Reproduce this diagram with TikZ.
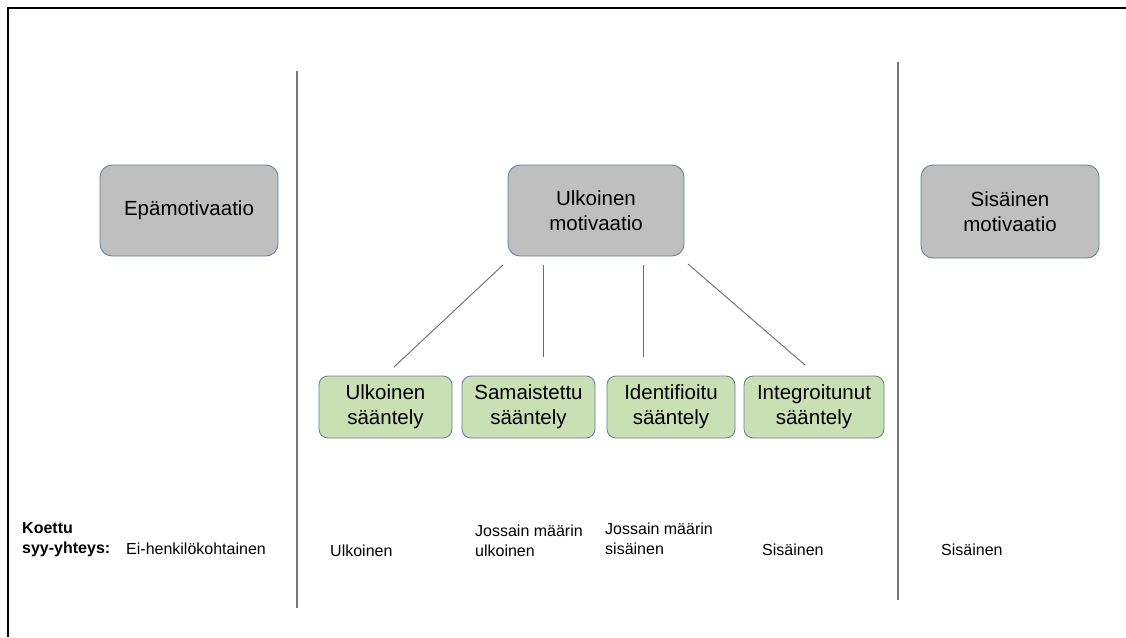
\documentclass[tikz,border=0pt]{standalone}
\usepackage{fontspec}
\setmainfont{Liberation Sans}
\usepackage{tikz}
\usetikzlibrary{positioning}
\definecolor{BoxGrey}{RGB}{191, 191, 191}
\definecolor{BoxGreen}{RGB}{200, 224, 180}
\definecolor{BoxEdge}{RGB}{100, 122, 150}
\definecolor{RuleGrey}{RGB}{120, 120, 120}

\begin{document}
\begin{tikzpicture}[
    x=1pt,
    y=-1pt,
    motivbox/.style={
        rectangle,
        rounded corners=12pt,
        draw=BoxEdge,
        line width=0.8pt,
        fill=BoxGrey,
        minimum width=178pt,
        minimum height=91pt,
        align=center,
        font=\fontsize{20.5}{25}\selectfont
    },
    regbox/.style={
        rectangle,
        rounded corners=9pt,
        draw=BoxEdge,
        line width=0.8pt,
        fill=BoxGreen,
        minimum height=62pt,
        inner sep=2pt,
        align=center,
        font=\fontsize{20.5}{25}\selectfont
    },
    causetext/.style={
        inner sep=0pt,
        align=left,
        font=\fontsize{16}{20}\selectfont
    },
    divider/.style={
        draw=RuleGrey,
        line width=1.2pt
    },
    branch/.style={
        draw=RuleGrey!90!black,
        line width=0.9pt
    }
]
\useasboundingbox (0,0) rectangle (1126,637);
% -------------------------------------------------------------
% FRAME
% -------------------------------------------------------------
\draw[line width=2.4pt] (8,637) -- (8,8) -- (1126,8);
% -------------------------------------------------------------
% DIVIDERS
% -------------------------------------------------------------
\coordinate (leftRuleTop) at (297,71);
\coordinate (leftRuleBottom) at (297,608);
\coordinate (rightRuleTop) at (898,62);
\coordinate (rightRuleBottom) at (898,600);
\draw[divider] (leftRuleTop) -- (leftRuleBottom);
\draw[divider] (rightRuleTop) -- (rightRuleBottom);
% -------------------------------------------------------------
% MOTIVATION TYPES
% -------------------------------------------------------------
\node[motivbox] (amotivNode) at (189,210.5)
{Epämotivaatio};
\node[motivbox, minimum width=176pt] (extrinsicNode) at (596,210.5)
{Ulkoinen\\motivaatio};
\node[motivbox, minimum height=93pt] (intrinsicNode) at (1010,211.5)
{Sisäinen\\motivaatio};
% -------------------------------------------------------------
% REGULATION TYPES
% -------------------------------------------------------------
\node[regbox, minimum width=133pt] (externalRegNode) at (385.5,407)
{Ulkoinen\\sääntely};
\node[regbox, minimum width=133pt] (introjectedRegNode) at (528.5,407)
{Samaistettu\\sääntely};
\node[regbox, minimum width=128pt] (identifiedRegNode) at (671,407)
{Identifioitu\\sääntely};
\node[regbox, minimum width=140pt] (integratedRegNode) at (814,407)
{Integroitunut\\sääntely};
% -------------------------------------------------------------
% BRANCHES
% -------------------------------------------------------------
\coordinate (branchAStart) at (503,265);
\coordinate (branchAEnd) at (394,367);
\coordinate (branchBStart) at (543,265);
\coordinate (branchBEnd) at (543,357);
\coordinate (branchCStart) at (643,265);
\coordinate (branchCEnd) at (643,357);
\coordinate (branchDStart) at (688,264);
\coordinate (branchDEnd) at (805,365);
\draw[branch] (branchAStart) -- (branchAEnd);
\draw[branch] (branchBStart) -- (branchBEnd);
\draw[branch] (branchCStart) -- (branchCEnd);
\draw[branch] (branchDStart) -- (branchDEnd);
% -------------------------------------------------------------
% PERCEIVED CAUSALITY
% -------------------------------------------------------------
\node[causetext, anchor=west, font=\fontsize{16}{20}\selectfont\bfseries]
(causeTitle) at (22,540)
{Koettu\\syy-yhteys:};
\node[causetext, anchor=base west] (causeAmotiv) at (126,554)
{Ei-henkilökohtainen};
\node[causetext, anchor=base west] (causeExternal) at (330,556)
{Ulkoinen};
\node[causetext, anchor=west] (causeIntrojected) at (475,541)
{Jossain määrin\\ulkoinen};
\node[causetext, anchor=west] (causeIdentified) at (605,539)
{Jossain määrin\\sisäinen};
\node[causetext, anchor=base west] (causeIntegrated) at (762,555)
{Sisäinen};
\node[causetext, anchor=base west] (causeIntrinsic) at (941,555)
{Sisäinen};
\end{tikzpicture}
\end{document}
